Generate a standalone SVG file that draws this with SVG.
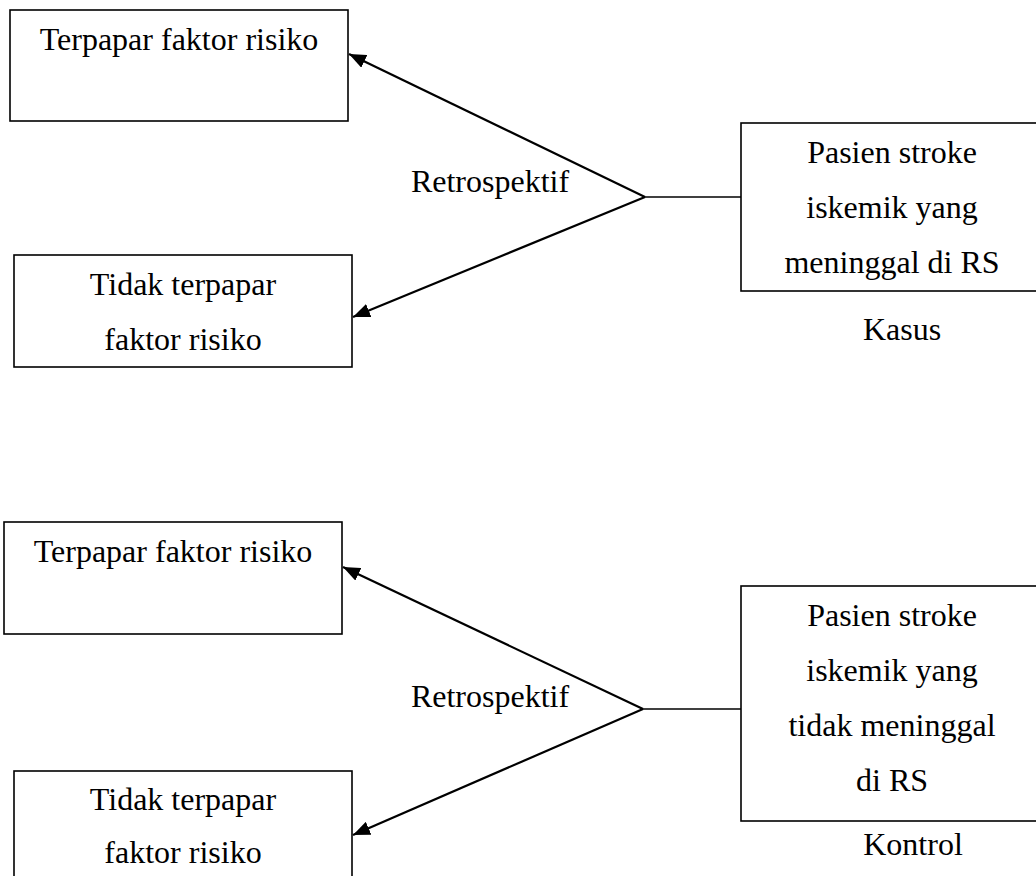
<svg xmlns="http://www.w3.org/2000/svg" width="1036" height="876" viewBox="0 0 1036 876">
<style>
.box{fill:#fff;stroke:#000;stroke-width:1.6}
.t{font-family:"Liberation Serif","Times New Roman",serif;font-size:32px;fill:#000;text-anchor:middle}
.ln{stroke:#000;stroke-width:2.2;fill:none}
.hl{stroke:#000;stroke-width:1.6;fill:none}
</style>
<defs>
<marker id="arr" markerUnits="userSpaceOnUse" markerWidth="18" markerHeight="14" refX="17" refY="7" orient="auto">
<path d="M0,0 L17,7 L0,14 Z" fill="#000"/>
</marker>
</defs>
<rect width="1036" height="876" fill="#fff"/>
<g id="n-terpapar-1">
<rect class="box" x="10" y="10" width="338" height="111"/>
<text class="t" x="179" y="50">Terpapar faktor risiko</text>
</g>
<g id="n-tidak-1">
<rect class="box" x="14" y="255" width="338" height="112"/>
<text class="t" x="183" y="295">Tidak terpapar</text>
<text class="t" x="183" y="350">faktor risiko</text>
</g>
<g id="n-kasus">
<rect class="box" x="741" y="123" width="320" height="168"/>
<text class="t" x="892" y="163">Pasien stroke</text>
<text class="t" x="892" y="218">iskemik yang</text>
<text class="t" x="892" y="273">meninggal di RS</text>
<text class="t" x="902" y="340">Kasus</text>
</g>
<g id="n-terpapar-2">
<rect class="box" x="4" y="522" width="338" height="112"/>
<text class="t" x="173" y="562">Terpapar faktor risiko</text>
</g>
<g id="n-tidak-2">
<rect class="box" x="14" y="771" width="338" height="130"/>
<text class="t" x="183" y="810">Tidak terpapar</text>
<text class="t" x="183" y="863">faktor risiko</text>
</g>
<g id="n-kontrol">
<rect class="box" x="741" y="586" width="320" height="235"/>
<text class="t" x="892" y="626">Pasien stroke</text>
<text class="t" x="892" y="681">iskemik yang</text>
<text class="t" x="892" y="736">tidak meninggal</text>
<text class="t" x="892" y="791">di RS</text>
<text class="t" x="913" y="855">Kontrol</text>
</g>
<g id="labels">
<text class="t" x="490" y="192">Retrospektif</text>
<text class="t" x="490" y="707">Retrospektif</text>
</g>
<g id="connectors">
<line class="hl" x1="645" y1="197" x2="741" y2="197"/>
<line class="ln" x1="645" y1="197" x2="349" y2="54" marker-end="url(#arr)"/>
<line class="ln" x1="645" y1="197" x2="353" y2="317" marker-end="url(#arr)"/>
<line class="hl" x1="643" y1="709" x2="741" y2="709"/>
<line class="ln" x1="643" y1="709" x2="343" y2="567" marker-end="url(#arr)"/>
<line class="ln" x1="643" y1="709" x2="353" y2="835" marker-end="url(#arr)"/>
</g>
</svg>
